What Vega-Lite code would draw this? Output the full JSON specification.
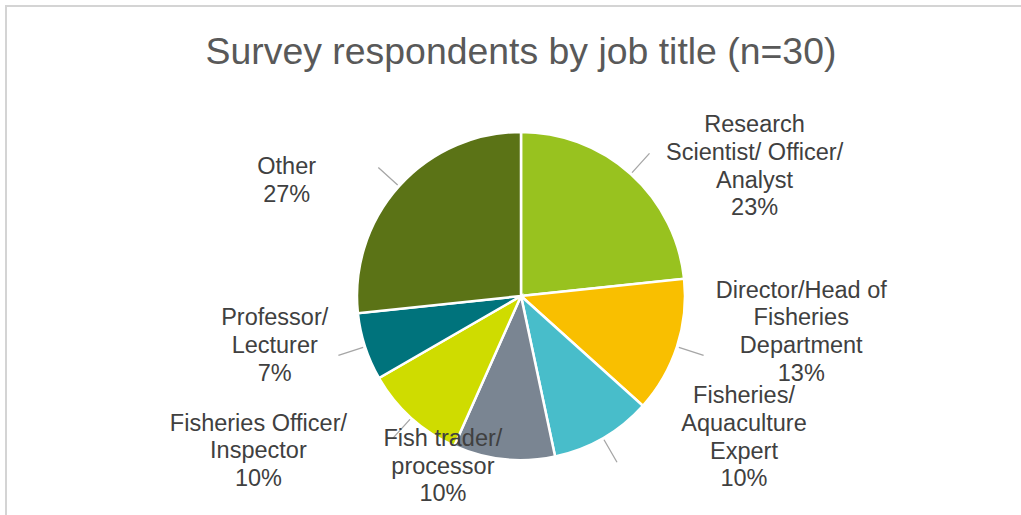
{
  "$schema": "https://vega.github.io/schema/vega-lite/v6.json",
  "width": 1030,
  "height": 580,
  "autosize": {"type": "none"},
  "padding": {"left": 6, "top": 6, "right": 0, "bottom": 0},
  "background": "white",
  "view": {"stroke": "#d4d4d4", "strokeWidth": 2},
  "config": {"view": {"stroke": "#d4d4d4", "strokeWidth": 2}, "font": "Liberation Sans"},
  "title": {"text": "Survey respondents by job title (n=30)", "fontSize": 37.4, "font": "Liberation Sans", "fontWeight": "normal", "color": "#595959", "offset": -73, "anchor": "middle"},
  "data": {"values": [
    {"job": "Research Scientist/ Officer/ Analyst", "count": 7, "rank": 1, "label": "Research|Scientist/ Officer/|Analyst|23%"},
    {"job": "Director/Head of Fisheries Department", "count": 4, "rank": 2, "label": "Director/Head of|Fisheries|Department|13%"},
    {"job": "Fisheries/ Aquaculture Expert", "count": 3, "rank": 3, "label": "Fisheries/|Aquaculture|Expert|10%"},
    {"job": "Fish trader/ processor", "count": 3, "rank": 4, "label": "Fish trader/|processor|10%"},
    {"job": "Fisheries Officer/ Inspector", "count": 3, "rank": 5, "label": "Fisheries Officer/|Inspector|10%"},
    {"job": "Professor/ Lecturer", "count": 2, "rank": 6, "label": "Professor/|Lecturer|7%"},
    {"job": "Other", "count": 8, "rank": 7, "label": "Other|27%"}
  ]},
  "encoding": {
    "theta": {"field": "count", "type": "quantitative", "stack": true},
    "order": {"field": "rank", "type": "quantitative"}
  },
  "layer": [
    {
      "mark": {"type": "arc", "radius": 164, "stroke": "white", "strokeWidth": 2.5},
      "encoding": {
        "color": {"field": "job", "type": "nominal", "legend": null,
          "scale": {"domain": ["Research Scientist/ Officer/ Analyst", "Director/Head of Fisheries Department", "Fisheries/ Aquaculture Expert", "Fish trader/ processor", "Fisheries Officer/ Inspector", "Professor/ Lecturer", "Other"],
                    "range": ["#98C21F", "#F9BF00", "#48BDCA", "#7A8592", "#CFDC00", "#00737C", "#5B7316"]}}
      }
    },
    {
      "mark": {"type": "arc", "radius": 192, "radius2": 166, "padAngle": 3, "filled": false, "stroke": "#a6a6a6", "strokeWidth": 1.3},
      "encoding": {"strokeOpacity": {"condition": {"test": "datum.job === 'Fish trader/ processor'", "value": 0}, "value": 1}}
    },
    {
      "mark": {"type": "text", "radius": 240, "dx": 73, "dy": 7.5, "fontSize": 23.5, "lineBreak": "|", "lineHeight": 27.7, "color": "#404040", "font": "Liberation Sans", "align": "center", "baseline": "middle"},
      "encoding": {"text": {"condition": {"test": "datum.job === 'Research Scientist/ Officer/ Analyst'", "field": "label"}, "value": ""}}
    },
    {
      "mark": {"type": "text", "radius": 240, "dx": 52, "dy": -79.5, "fontSize": 23.5, "lineBreak": "|", "lineHeight": 27.7, "color": "#404040", "font": "Liberation Sans", "align": "center", "baseline": "middle"},
      "encoding": {"text": {"condition": {"test": "datum.job === 'Director/Head of Fisheries Department'", "field": "label"}, "value": ""}}
    },
    {
      "mark": {"type": "text", "radius": 240, "dx": 103, "dy": -107.5, "fontSize": 23.5, "lineBreak": "|", "lineHeight": 27.7, "color": "#404040", "font": "Liberation Sans", "align": "center", "baseline": "middle"},
      "encoding": {"text": {"condition": {"test": "datum.job === 'Fisheries/ Aquaculture Expert'", "field": "label"}, "value": ""}}
    },
    {
      "mark": {"type": "text", "radius": 240, "dx": -53, "dy": -95.7, "fontSize": 23.5, "lineBreak": "|", "lineHeight": 27.7, "color": "#404040", "font": "Liberation Sans", "align": "center", "baseline": "middle"},
      "encoding": {"text": {"condition": {"test": "datum.job === 'Fish trader/ processor'", "field": "label"}, "value": ""}}
    },
    {
      "mark": {"type": "text", "radius": 240, "dx": -102, "dy": -50.7, "fontSize": 23.5, "lineBreak": "|", "lineHeight": 27.7, "color": "#404040", "font": "Liberation Sans", "align": "center", "baseline": "middle"},
      "encoding": {"text": {"condition": {"test": "datum.job === 'Fisheries Officer/ Inspector'", "field": "label"}, "value": ""}}
    },
    {
      "mark": {"type": "text", "radius": 240, "dx": -18, "dy": -51.7, "fontSize": 23.5, "lineBreak": "|", "lineHeight": 27.7, "color": "#404040", "font": "Liberation Sans", "align": "center", "baseline": "middle"},
      "encoding": {"text": {"condition": {"test": "datum.job === 'Professor/ Lecturer'", "field": "label"}, "value": ""}}
    },
    {
      "mark": {"type": "text", "radius": 240, "dx": -56, "dy": 32, "fontSize": 23.5, "lineBreak": "|", "lineHeight": 27.7, "color": "#404040", "font": "Liberation Sans", "align": "center", "baseline": "middle"},
      "encoding": {"text": {"condition": {"test": "datum.job === 'Other'", "field": "label"}, "value": ""}}
    }
  ]
}
